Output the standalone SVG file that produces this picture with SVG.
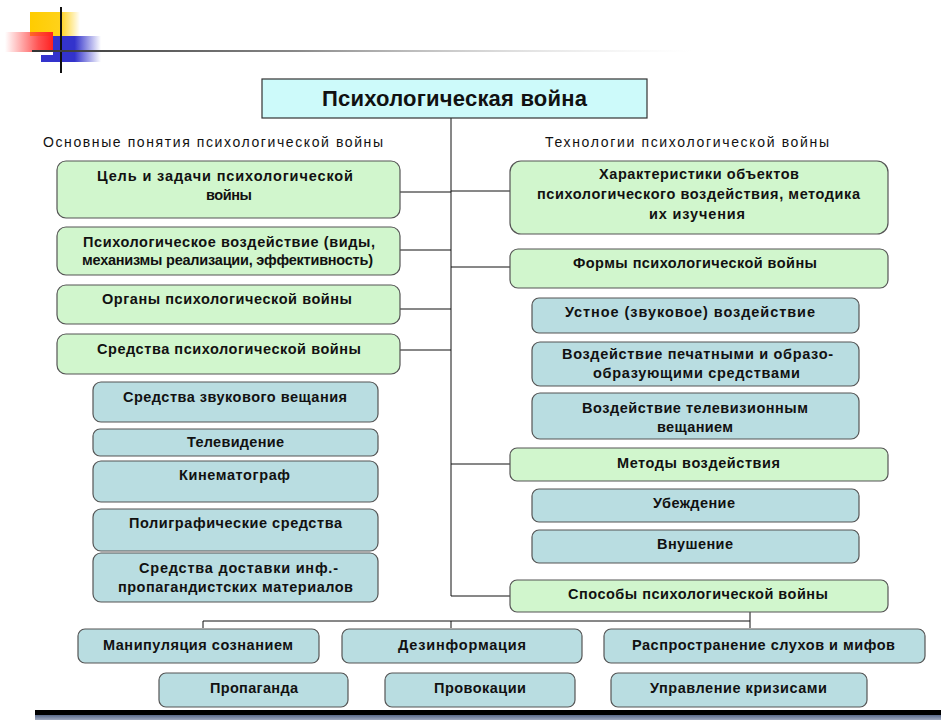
<svg xmlns="http://www.w3.org/2000/svg" width="941" height="720" viewBox="0 0 941 720">
<defs>
<linearGradient id="gY" x1="0" x2="1" y1="0" y2="0"><stop offset="0" stop-color="#ffcc00"/><stop offset="0.6" stop-color="#ffd21a"/><stop offset="1" stop-color="#ffcc00" stop-opacity="0"/></linearGradient>
<linearGradient id="gR" x1="0" x2="1" y1="0" y2="0"><stop offset="0" stop-color="#ff3333" stop-opacity="0"/><stop offset="0.7" stop-color="#ff3333" stop-opacity="0.85"/><stop offset="1" stop-color="#ff2020"/></linearGradient>
<linearGradient id="gB" x1="0" x2="1" y1="0" y2="0"><stop offset="0" stop-color="#3333cc"/><stop offset="0.45" stop-color="#3333cc"/><stop offset="1" stop-color="#3333cc" stop-opacity="0"/></linearGradient>
<linearGradient id="gL" x1="0" x2="1" y1="0" y2="0"><stop offset="0" stop-color="#333"/><stop offset="0.4" stop-color="#888"/><stop offset="1" stop-color="#ddd" stop-opacity="0"/></linearGradient>
<linearGradient id="gBar" x1="0" x2="0" y1="0" y2="1"><stop offset="0" stop-color="#5a6a8a"/><stop offset="1" stop-color="#a0aabf"/></linearGradient>
</defs>
<style>
.g{fill:#d1f6cd;stroke:#555;stroke-width:1.2}
.b{fill:#b9dde1;stroke:#555;stroke-width:1.2}
.t{font-family:"Liberation Sans",Arial,sans-serif;font-size:14.5px;font-weight:bold;fill:#111;text-anchor:middle}
.h{font-family:"Liberation Sans",Arial,sans-serif;font-size:14px;fill:#111}
.c{stroke:#111;stroke-width:1;fill:none}
</style>
<g id="decor">
<rect x="30" y="12" width="50" height="24" fill="url(#gY)"/>
<rect x="5" y="32" width="48" height="20" fill="url(#gR)"/>
<rect x="53" y="36" width="48" height="26" fill="url(#gB)"/>
<rect x="41" y="55" width="14" height="7" fill="#3333cc"/>
<line x1="61" y1="7" x2="61" y2="73" stroke="#111" stroke-width="2"/>
<rect x="32" y="50" width="660" height="2" fill="url(#gL)"/>
<rect x="35" y="710" width="906" height="5" fill="#000"/>
<rect x="35" y="715" width="906" height="5" fill="url(#gBar)"/>
</g>
<g id="connectors" class="c">
<line x1="451" y1="118" x2="451" y2="596"/>
<line x1="400" y1="192" x2="451" y2="192"/>
<line x1="400" y1="250" x2="451" y2="250"/>
<line x1="400" y1="309" x2="451" y2="309"/>
<line x1="400" y1="350" x2="451" y2="350"/>
<line x1="451" y1="191" x2="510" y2="191"/>
<line x1="451" y1="267" x2="510" y2="267"/>
<line x1="451" y1="464" x2="510" y2="464"/>
<line x1="451" y1="596" x2="510" y2="596"/>
<line x1="750" y1="612" x2="750" y2="628"/>
<line x1="203" y1="621" x2="750" y2="621"/>
<line x1="203" y1="621" x2="203" y2="628"/>
<line x1="451" y1="621" x2="451" y2="628"/>
</g>
<g id="title">
<rect x="262" y="79" width="385" height="39" fill="#cdfafa" stroke="#333" stroke-width="1.2"/>
<text class="t" x="454.5" y="106" style="font-size:22px" textLength="265" lengthAdjust="spacing">Психологическая война</text>
</g>
<g id="header-left"><text class="h" x="43" y="147" textLength="340" lengthAdjust="spacing">Основные понятия психологической войны</text></g>
<g id="header-right"><text class="h" x="545" y="147" textLength="284" lengthAdjust="spacing">Технологии психологической войны</text></g>
<g id="goal">
<rect class="g" x="57" y="161" width="343" height="57" rx="9"/>
<text class="t" x="225" y="181" textLength="256" lengthAdjust="spacing">Цель и задачи психологической</text>
<text class="t" x="229" y="200" textLength="46" lengthAdjust="spacing">войны</text>
</g>
<g id="influence">
<rect class="g" x="57" y="227" width="343" height="48" rx="9"/>
<text class="t" x="229" y="247" textLength="292" lengthAdjust="spacing">Психологическое воздействие (виды,</text>
<text class="t" x="227.5" y="265" textLength="291" lengthAdjust="spacing">механизмы реализации, эффективность)</text>
</g>
<g id="organs">
<rect class="g" x="57" y="285" width="343" height="39" rx="9"/>
<text class="t" x="227" y="304" textLength="250" lengthAdjust="spacing">Органы психологической войны</text>
</g>
<g id="means">
<rect class="g" x="57" y="334" width="343" height="40" rx="9"/>
<text class="t" x="229" y="354" textLength="264" lengthAdjust="spacing">Средства психологической войны</text>
</g>
<g id="sound">
<rect class="b" x="93" y="382" width="285" height="40" rx="8"/>
<text class="t" x="235" y="402" textLength="224" lengthAdjust="spacing">Средства звукового вещания</text>
</g>
<g id="tv">
<rect class="b" x="93" y="429" width="285" height="27" rx="7"/>
<text class="t" x="235.5" y="447" textLength="97" lengthAdjust="spacing">Телевидение</text>
</g>
<g id="cinema">
<rect class="b" x="93" y="461" width="285" height="41" rx="8"/>
<text class="t" x="234.5" y="480" textLength="111" lengthAdjust="spacing">Кинематограф</text>
</g>
<g id="print">
<rect class="b" x="93" y="509" width="285" height="42" rx="8"/>
<text class="t" x="235.5" y="528" textLength="213" lengthAdjust="spacing">Полиграфические средства</text>
</g>
<g id="delivery">
<rect class="b" x="93" y="553" width="285" height="49" rx="8"/>
<text class="t" x="238.5" y="573" textLength="199" lengthAdjust="spacing">Средства доставки инф.-</text>
<text class="t" x="235.5" y="592" textLength="235" lengthAdjust="spacing">пропагандистских материалов</text>
</g>
<g id="objects">
<rect class="g" x="510" y="161" width="378" height="73" rx="11"/>
<text class="t" x="699" y="179" textLength="200" lengthAdjust="spacing">Характеристики объектов</text>
<text class="t" x="698.5" y="199" textLength="323" lengthAdjust="spacing">психологического воздействия, методика</text>
<text class="t" x="697" y="219" textLength="96" lengthAdjust="spacing">их изучения</text>
</g>
<g id="forms">
<rect class="g" x="510" y="249" width="378" height="39" rx="8"/>
<text class="t" x="695" y="268" textLength="244" lengthAdjust="spacing">Формы психологической войны</text>
</g>
<g id="oral">
<rect class="b" x="532" y="298" width="327" height="35" rx="7"/>
<text class="t" x="690" y="317" textLength="250" lengthAdjust="spacing">Устное (звуковое) воздействие</text>
</g>
<g id="printed">
<rect class="b" x="532" y="342" width="327" height="44" rx="8"/>
<text class="t" x="697.5" y="359" textLength="271" lengthAdjust="spacing">Воздействие печатными и образо-</text>
<text class="t" x="696.5" y="378" textLength="207" lengthAdjust="spacing">образующими средствами</text>
</g>
<g id="tvinfl">
<rect class="b" x="532" y="393" width="327" height="46" rx="8"/>
<text class="t" x="695" y="413" textLength="226" lengthAdjust="spacing">Воздействие телевизионным</text>
<text class="t" x="695" y="432" textLength="76" lengthAdjust="spacing">вещанием</text>
</g>
<g id="methods">
<rect class="g" x="510" y="448" width="378" height="33" rx="7"/>
<text class="t" x="698.5" y="468" textLength="163" lengthAdjust="spacing">Методы воздействия</text>
</g>
<g id="persuasion">
<rect class="b" x="532" y="489" width="327" height="33" rx="7"/>
<text class="t" x="694" y="508" textLength="82" lengthAdjust="spacing">Убеждение</text>
</g>
<g id="suggestion">
<rect class="b" x="532" y="530" width="327" height="33" rx="7"/>
<text class="t" x="695" y="549" textLength="76" lengthAdjust="spacing">Внушение</text>
</g>
<g id="ways">
<rect class="g" x="510" y="580" width="378" height="32" rx="7"/>
<text class="t" x="698" y="599" textLength="260" lengthAdjust="spacing">Способы психологической войны</text>
</g>
<g id="manipulation">
<rect class="b" x="78" y="629" width="241" height="34" rx="7"/>
<text class="t" x="198" y="650" textLength="190" lengthAdjust="spacing">Манипуляция сознанием</text>
</g>
<g id="disinfo">
<rect class="b" x="342" y="629" width="240" height="34" rx="7"/>
<text class="t" x="462" y="650" textLength="128" lengthAdjust="spacing">Дезинформация</text>
</g>
<g id="rumors">
<rect class="b" x="604" y="629" width="321" height="34" rx="7"/>
<text class="t" x="763.5" y="650" textLength="263" lengthAdjust="spacing">Распространение слухов и мифов</text>
</g>
<g id="propaganda">
<rect class="b" x="159" y="673" width="189" height="34" rx="7"/>
<text class="t" x="254" y="693" textLength="88" lengthAdjust="spacing">Пропаганда</text>
</g>
<g id="provocation">
<rect class="b" x="385" y="673" width="190" height="34" rx="7"/>
<text class="t" x="480" y="693" textLength="92" lengthAdjust="spacing">Провокации</text>
</g>
<g id="crisis">
<rect class="b" x="611" y="673" width="256" height="34" rx="7"/>
<text class="t" x="738.5" y="693" textLength="177" lengthAdjust="spacing">Управление кризисами</text>
</g>
</svg>
